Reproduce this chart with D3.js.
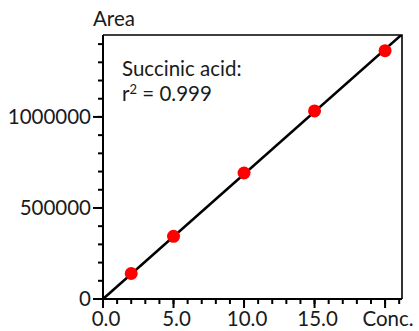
<!DOCTYPE html>
<html>
<head>
<meta charset="utf-8">
<script src="https://cdn.jsdelivr.net/npm/d3@7"></script>
<style>
  body { margin: 0; background: #fff; }
  text { font-family: Lato, "Open Sans", sans-serif; fill: #1a1a1a; }
</style>
</head>
<body>
<svg id="chart"></svg>
<script>
// calibration points
const conc = [2, 5, 10, 15, 20];
const area = [140000, 344000, 692000, 1033000, 1364000];
const xTicks = [0, 5, 10, 15, 20];
const xTickLabels = ["0.0", "5.0", "10.0", "15.0", "Conc."];
const yTicks = [0, 500000, 1000000];
const compound = "Succinic acid:";
const rSquared = "0.999";

const width = 419, height = 331;
const margin = { left: 103, right: 17, top: 35, bottom: 32 };
const fontSize = "20.5px";

const svg = d3.select("#chart").attr("width", width).attr("height", height);

const x = d3.scaleLinear().domain([0, 21.2]).range([margin.left, width - margin.right]);
const y = d3.scaleLinear().domain([0, 1450000]).range([height - margin.bottom, margin.top]);

// least squares line through the origin
const slope = d3.sum(conc, (c, i) => c * area[i]) / d3.sum(conc, c => c * c);

svg.append("clipPath").attr("id", "plot")
  .append("rect")
  .attr("x", x(0)).attr("y", y(1450000))
  .attr("width", x(21.2) - x(0)).attr("height", y(0) - y(1450000));

// frame (top & right)
svg.append("path")
  .attr("d", `M${x(0)},${y(1450000)}H${x(21.2)}V${y(0)}`)
  .attr("fill", "none").attr("stroke", "#000").attr("stroke-width", 1.6);

// y axis
const yAxis = svg.append("g").attr("transform", `translate(${x(0)},0)`);
yAxis.append("line").attr("y1", y(0)).attr("y2", y(1450000)).attr("stroke", "#000").attr("stroke-width", 2);
yAxis.selectAll(".minor").data(d3.range(100000, 1450000, 100000)).join("line")
  .attr("x1", -5).attr("x2", 0).attr("y1", d => y(d)).attr("y2", d => y(d))
  .attr("stroke", "#000").attr("stroke-width", 2);
yAxis.selectAll(".major").data(yTicks).join("line")
  .attr("x1", -10).attr("x2", 0).attr("y1", d => y(d)).attr("y2", d => y(d))
  .attr("stroke", "#000").attr("stroke-width", 2);
yAxis.selectAll("text").data(yTicks).join("text")
  .attr("x", -12).attr("y", d => y(d)).attr("dy", "0.36em")
  .attr("text-anchor", "end").style("font-size", fontSize)
  .text(d => d3.format("d")(d));

// x axis
const xAxis = svg.append("g").attr("transform", `translate(0,${y(0)})`);
xAxis.append("line").attr("x1", x(0)).attr("x2", x(21.2)).attr("stroke", "#000").attr("stroke-width", 2);
xAxis.selectAll(".minor").data(d3.range(1, 22)).join("line")
  .attr("x1", d => x(d)).attr("x2", d => x(d)).attr("y1", 0).attr("y2", 5)
  .attr("stroke", "#000").attr("stroke-width", 2);
xAxis.selectAll(".major").data(xTicks).join("line")
  .attr("x1", d => x(d)).attr("x2", d => x(d)).attr("y1", 0).attr("y2", 9)
  .attr("stroke", "#000").attr("stroke-width", 2);
xAxis.selectAll("text").data(xTicks).join("text")
  .attr("x", d => x(d) + 3).attr("y", 27)
  .attr("text-anchor", "middle").style("font-size", fontSize)
  .text((d, i) => xTickLabels[i]);

// axis title
svg.append("text").attr("x", 93).attr("y", 26).style("font-size", fontSize).text("Area");

// fit line
svg.append("line")
  .attr("clip-path", "url(#plot)")
  .attr("x1", x(0)).attr("y1", y(0))
  .attr("x2", x(21.2)).attr("y2", y(slope * 21.2))
  .attr("stroke", "#000").attr("stroke-width", 2.6);

// points
svg.selectAll("circle").data(conc).join("circle")
  .attr("cx", d => x(d)).attr("cy", (d, i) => y(area[i]))
  .attr("r", 6.5).attr("fill", "#ff0000");

// annotation
svg.append("text").attr("x", 122).attr("y", 76).style("font-size", fontSize).text(compound);
const r2 = svg.append("text").attr("x", 122).attr("y", 101).style("font-size", fontSize);
r2.append("tspan").text("r");
r2.append("tspan").attr("dy", -7).style("font-size", "13px").text("2");
r2.append("tspan").attr("dy", 7).text(" = " + rSquared);
</script>
</body>
</html>
